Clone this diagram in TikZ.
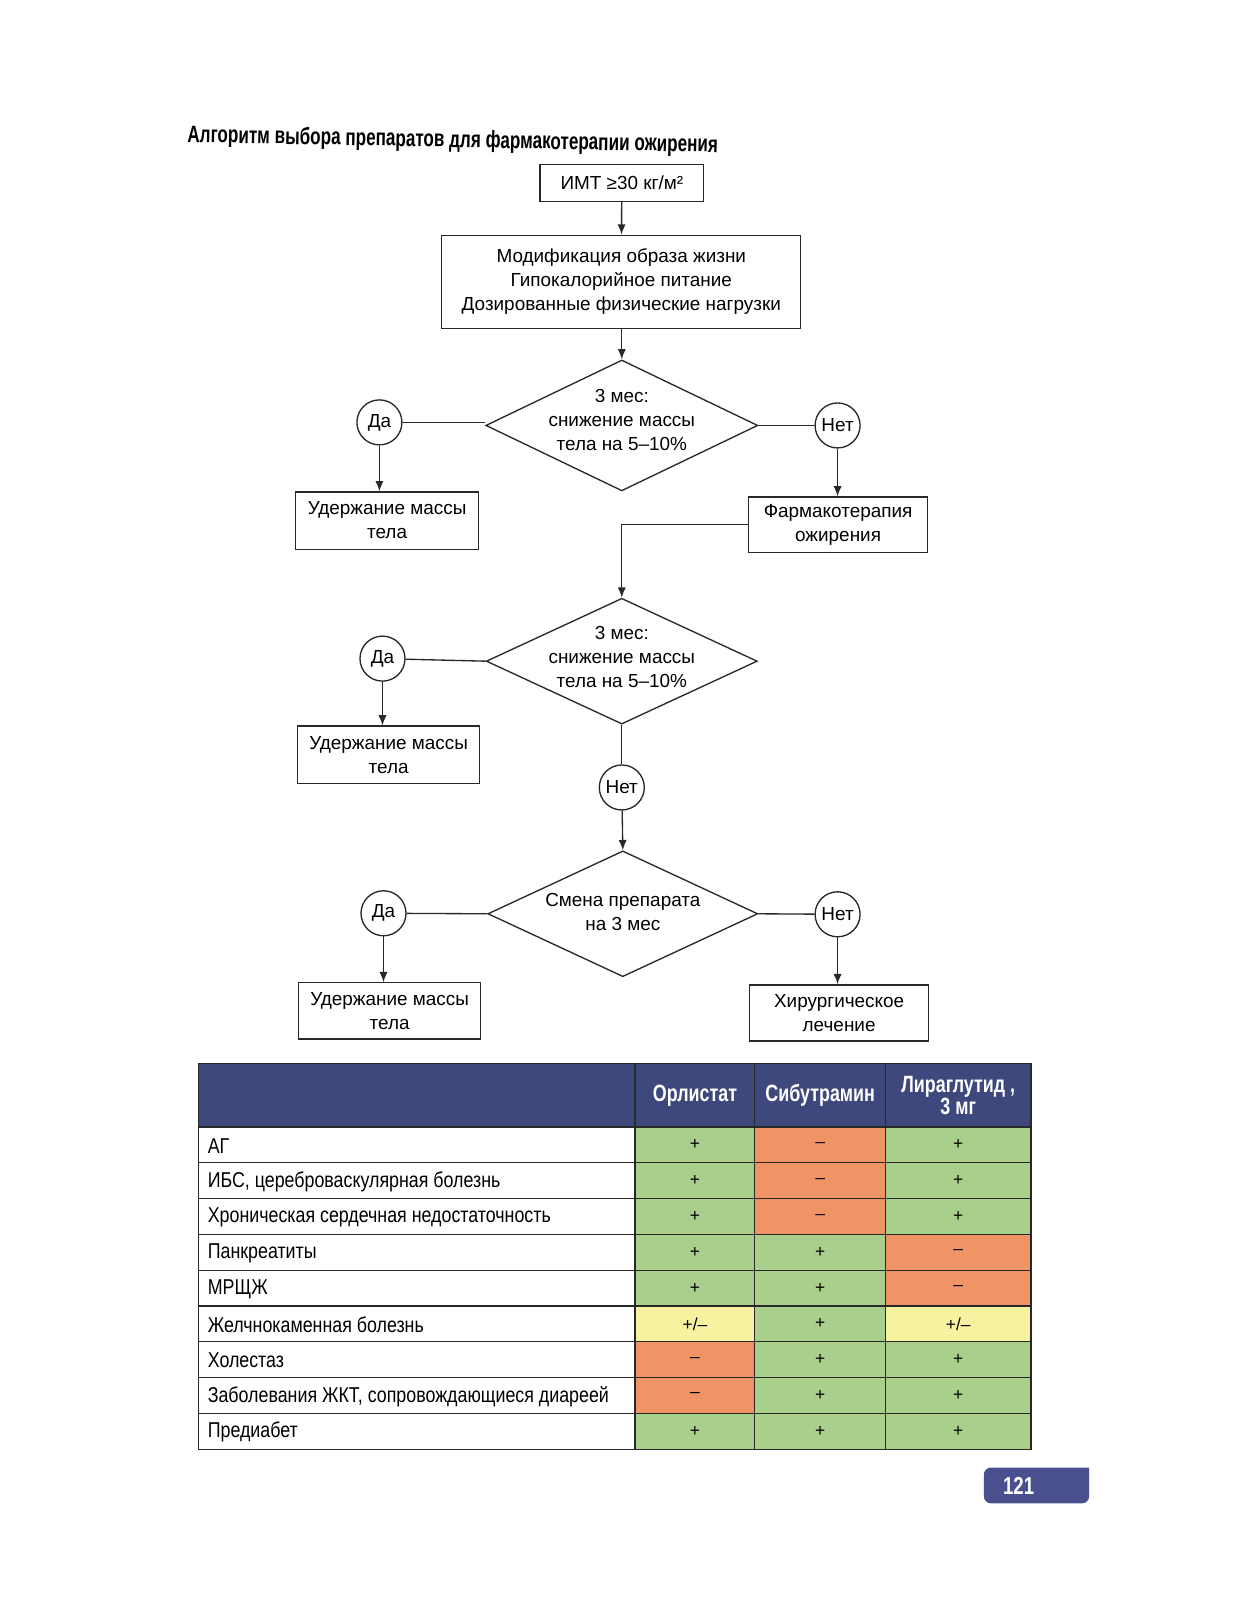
\documentclass[tikz,border=0pt]{standalone}
\usepackage{fontspec}
\setmainfont{Liberation Sans}
\newfontfamily\cond[FakeStretch=0.76]{Liberation Sans}
\newfontfamily\condt[FakeStretch=0.72]{Liberation Sans}
\newfontfamily\condr[FakeStretch=0.83]{Liberation Sans}
\usetikzlibrary{shapes.geometric,arrows.meta}
\definecolor{cgreen}{RGB}{168,208,140}
\definecolor{corange}{RGB}{240,148,102}
\definecolor{cyellow}{RGB}{246,242,160}
\definecolor{chead}{RGB}{62,72,124}
\definecolor{ctab}{RGB}{74,80,142}
\definecolor{cline}{RGB}{40,40,40}
\begin{document}
\begin{tikzpicture}[x=1pt,y=-1pt,
  fc/.style={font=\fontsize{18.5}{23.5}\selectfont},
  box/.style={draw=cline,line width=1.3pt,fill=white,align=center,inner sep=0pt,fc},
  dia/.style={draw=cline,line width=1.3pt,diamond,inner sep=0pt},
  yn/.style={draw=cline,line width=1.3pt,circle,minimum size=44pt,inner sep=0pt,fc},
  con/.style={draw=cline,line width=1.3pt},
  arr/.style={con,-{Latex[length=10pt,width=8pt]}},
  cell/.style={draw=cline,line width=1.3pt,inner sep=0pt,minimum height=35pt},
  rowtxt/.style={font=\condr\fontsize{21}{24}\selectfont,anchor=west,inner sep=0pt},
  signtxt/.style={font=\fontsize{17}{20}\selectfont},
  hd/.style={font=\cond\bfseries\fontsize{23}{21.5}\selectfont,text=white,align=center}
]
\useasboundingbox[fill=white] (0,0) rectangle (1209.5,1564.5);

% title
\node[anchor=base west,inner sep=0pt,rotate=-1.1,font=\condt\bfseries\fontsize{23.2}{26}\selectfont] (title) at (183,139)
  {Алгоритм выбора препаратов для фармакотерапии ожирения};

% flowchart
\node[box,minimum width=160pt,minimum height=36pt] (imt) at (608,179) {ИМТ ≥30 кг/м²};
\node[box,minimum width=351pt,minimum height=91pt] (mod) at (607.5,275.5)
  {Модификация образа жизни\\Гипокалорийное питание\\Дозированные физические нагрузки};

\node[dia,minimum width=266pt,minimum height=128pt] (d1) at (608,416) {};
\node[fc,align=center] (d1t) at (608,411) {3 мес:\\снижение массы\\тела на 5–10\%};
\node[yn] (da1) at (371,413) {Да};
\node[yn] (net1) at (819,416) {Нет};
\node[box,minimum width=179pt,minimum height=56pt] (u1) at (378.5,509) {Удержание массы\\тела};
\node[box,minimum width=175pt,minimum height=54pt] (f1) at (819.5,513) {Фармакотерапия\\ожирения};

\node[dia,minimum width=265pt,minimum height=123pt] (d2) at (608,646.5) {};
\node[fc,align=center] (d2t) at (608,642) {3 мес:\\снижение массы\\тела на 5–10\%};
\node[yn] (da2) at (374,644) {Да};
\node[box,minimum width=178pt,minimum height=56pt] (u2) at (380,738) {Удержание массы\\тела};
\node[yn] (net2) at (608,770) {Нет};

\node[dia,minimum width=264pt,minimum height=123pt] (d3) at (609,893.5) {};
\node[fc,align=center] (d3t) at (609,892) {Смена препарата\\на 3 мес};
\node[yn] (da3) at (375,893) {Да};
\node[yn] (net3) at (819,894) {Нет};
\node[box,minimum width=178pt,minimum height=55pt] (u3) at (381,988.5) {Удержание массы\\тела};
\node[box,minimum width=175pt,minimum height=55pt] (h1) at (820.5,990.5) {Хирургическое\\лечение};

\draw[arr] (imt) -- (mod);
\draw[arr] (mod.south -| d1.north) -- (d1.north);
\draw[con] (da1) -- (da1 -| d1.west);
\draw[con] (net1) -- (d1.east);
\draw[arr] (da1.south) -- (da1.south |- u1.north);
\draw[arr] (net1.south) -- (net1.south |- f1.north);
\draw[arr] (f1.west) -| (d2.north);
\draw[con] (da2) -- (d2.west);
\draw[arr] (da2.south) -- (da2.south |- u2.north);
\draw[con] (d2.south) -- (net2);
\draw[arr] (net2) -- (d3.north);
\draw[con] (da3) -- (d3.west);
\draw[con] (net3) -- (d3.east);
\draw[arr] (da3.south) -- (da3.south |- u3.north);
\draw[arr] (net3.south) -- (net3.south |- h1.north);

% table header
\node[cell,fill=chead,minimum width=427pt,minimum height=62pt] (h0) at (407.5,1071) {};
\node[cell,fill=chead,minimum width=117pt,minimum height=62pt,hd] (hA) at (679.5,1071) {Орлистат};
\node[cell,fill=chead,minimum width=128pt,minimum height=62pt,hd] (hB) at (802,1071) {Сибутрамин};
\node[cell,fill=chead,minimum width=142pt,minimum height=62pt,hd] (hC) at (937,1071) {Лираглутид ,\\3 мг};

% table body
\foreach \i/\name/\a/\ca/\b/\cb/\c/\cc in {
  1/АГ/+/cgreen/–/corange/+/cgreen,
  2/{ИБС, цереброваскулярная болезнь}/+/cgreen/–/corange/+/cgreen,
  3/Хроническая сердечная недостаточность/+/cgreen/–/corange/+/cgreen,
  4/Панкреатиты/+/cgreen/+/cgreen/–/corange,
  5/МРЩЖ/+/cgreen/+/cgreen/–/corange,
  6/Желчнокаменная болезнь/+\slash–/cyellow/+/cgreen/+\slash–/cyellow,
  7/Холестаз/–/corange/+/cgreen/+/cgreen,
  8/{Заболевания ЖКТ, сопровождающиеся диареей}/–/corange/+/cgreen/+/cgreen,
  9/Предиабет/+/cgreen/+/cgreen/+/cgreen}{
  \pgfmathsetmacro{\yy}{1102+(\i-1)*35+17.5}
  \node[cell,fill=white,minimum width=427pt] (r\i n) at (407.5,\yy) {};
  \node[rowtxt] (r\i t) at (203,\yy+1) {\name};
  \node[cell,fill=\ca,minimum width=117pt,signtxt] (r\i a) at (679.5,\yy) {\a};
  \node[cell,fill=\cb,minimum width=128pt,signtxt] (r\i b) at (802,\yy) {\b};
  \node[cell,fill=\cc,minimum width=142pt,signtxt] (r\i c) at (937,\yy) {\c};
}

% page number tab
\fill[ctab,rounded corners=7pt] (1065,1435) -- (962,1435) -- (962,1470) -- (1065,1470) [sharp corners] -- cycle;
\node[font=\cond\bfseries\fontsize{24}{24}\selectfont,text=white] (pg) at (996,1453) {121};
\end{tikzpicture}
\end{document}
